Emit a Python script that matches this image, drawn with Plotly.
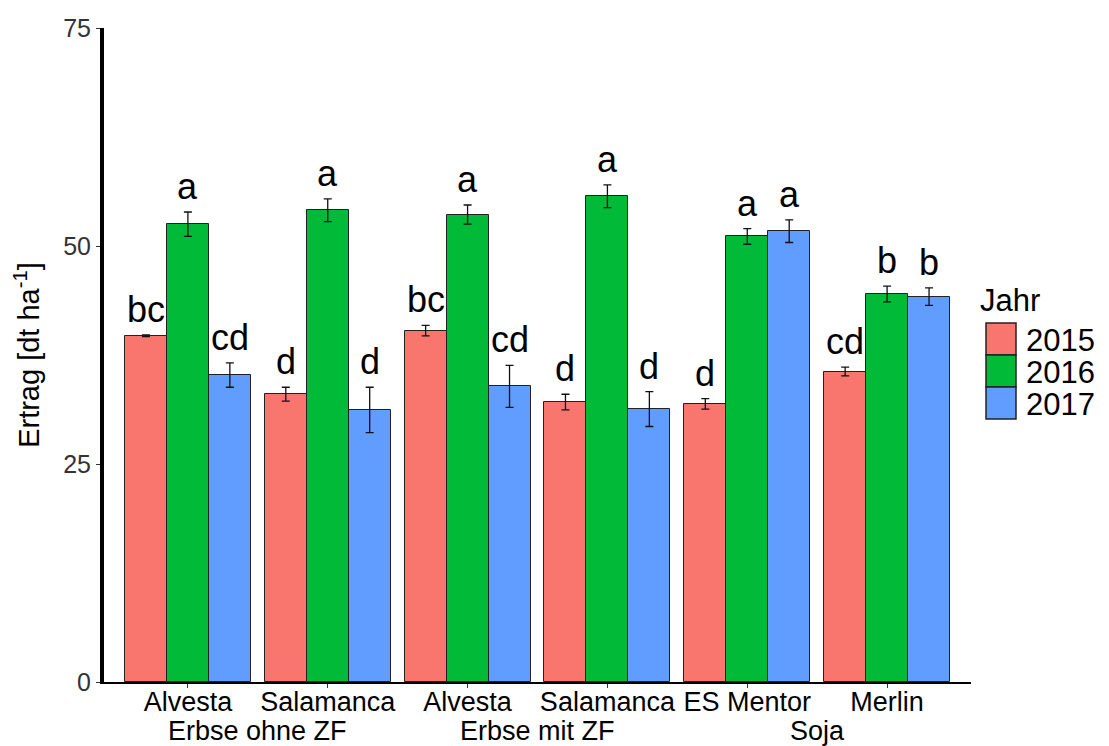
import numpy as np
import plotly.graph_objects as go

varieties = ["Alvesta", "Salamanca", "Alvesta", "Salamanca", "ES Mentor", "Merlin"]
crops = ["Erbse ohne ZF", "Erbse mit ZF", "Soja"]
years = ["2015", "2016", "2017"]
colors = ["#F8766D", "#00BA38", "#619CFF"]

yield_2015 = [39.7, 33.0, 40.3, 32.1, 31.9, 35.6]
yield_2016 = [52.5, 54.1, 53.6, 55.7, 51.1, 44.5]
yield_2017 = [35.2, 31.2, 33.9, 31.3, 51.7, 44.2]
err_2015 = [0.1, 0.8, 0.6, 0.9, 0.6, 0.5]
err_2016 = [1.4, 1.3, 1.1, 1.3, 0.9, 0.9]
err_2017 = [1.4, 2.6, 2.4, 2.0, 1.3, 1.0]
letters_2015 = ["bc", "d", "bc", "d", "d", "cd"]
letters_2016 = ["a", "a", "a", "a", "a", "b"]
letters_2017 = ["cd", "d", "cd", "d", "a", "b"]

values = [yield_2015, yield_2016, yield_2017]
errors = [err_2015, err_2016, err_2017]
letters = [letters_2015, letters_2016, letters_2017]

font = "Liberation Sans, Arial, sans-serif"
bw = 0.3
offsets = [-bw, 0, bw]
idx = np.arange(len(varieties))

# figure is offset by the page's default 8px body margin
W, H = 1101, 738
ml, mt, mr, mb = 96, 20, 138, 64

fig = go.Figure()
for k in range(3):
    fig.add_trace(go.Bar(
        x=idx + offsets[k], y=values[k], width=bw, name=years[k], showlegend=False,
        marker=dict(color=colors[k], line=dict(color="#222222", width=1)),
        error_y=dict(type="data", array=errors[k], color="#111111", thickness=1.3, width=4),
    ))
for k in range(3):
    for i in range(len(varieties)):
        fig.add_annotation(
            x=idx[i] + offsets[k], y=values[k][i] + errors[k][i], text=letters[k][i],
            showarrow=False, yanchor="bottom", yshift=3,
            font=dict(family=font, size=36, color="black"),
        )

for j, c in enumerate(crops):
    fig.add_annotation(
        x=2 * j + 0.5, y=0, yref="y", text=c, showarrow=False, yanchor="top", yshift=-32,
        font=dict(family=font, size=27, color="black"),
    )

# manual legend (large keys like the reference)
pw = W - ml - mr
ph = H - mt - mb
def px_x(p):
    return (p - 8 - ml) / pw
def px_y(p):
    return (H - mb - (p - 8)) / ph

fig.add_annotation(xref="paper", yref="paper", x=px_x(978), y=px_y(300), text="Jahr",
                   showarrow=False, xanchor="left", yanchor="middle",
                   font=dict(family=font, size=31, color="black"))
for k in range(3):
    top = 323 + 32 * k
    fig.add_shape(type="rect", xref="paper", yref="paper",
                  x0=px_x(986), x1=px_x(1016), y0=px_y(top), y1=px_y(top + 32),
                  fillcolor=colors[k], line=dict(color="#222222", width=1.5))
    fig.add_annotation(xref="paper", yref="paper", x=px_x(1024), y=px_y(top + 17), text=years[k],
                       showarrow=False, xanchor="left", yanchor="middle",
                       font=dict(family=font, size=31, color="black"))

fig.update_layout(
    width=W, height=H,
    margin=dict(l=ml, r=mr, t=mt, b=mb, autoexpand=False),
    plot_bgcolor="white", paper_bgcolor="white",
    barmode="overlay", bargap=0,
    font=dict(family=font, color="black"),
    showlegend=False,
    xaxis=dict(
        range=[-0.6, 5.6], tickmode="array", tickvals=list(idx), ticktext=varieties,
        showline=True, linecolor="black", linewidth=1.5, ticks="outside", ticklen=4,
        tickcolor="#333333", tickfont=dict(size=27, color="black", family=font),
        ticklabelstandoff=-9,
        showgrid=False, zeroline=False, automargin=False,
    ),
    yaxis=dict(
        range=[0, 75], tickvals=[0, 25, 50, 75],
        showline=True, linecolor="black", linewidth=4, ticks="outside", ticklen=4,
        tickcolor="#333333", tickfont=dict(size=25, color="#333333", family=font),
        showgrid=False, zeroline=False, automargin=False,
        title=dict(text="Ertrag [dt ha<sup>-1</sup>]", font=dict(size=29, family=font), standoff=16),
    ),
)

fig.write_html("out.html")
